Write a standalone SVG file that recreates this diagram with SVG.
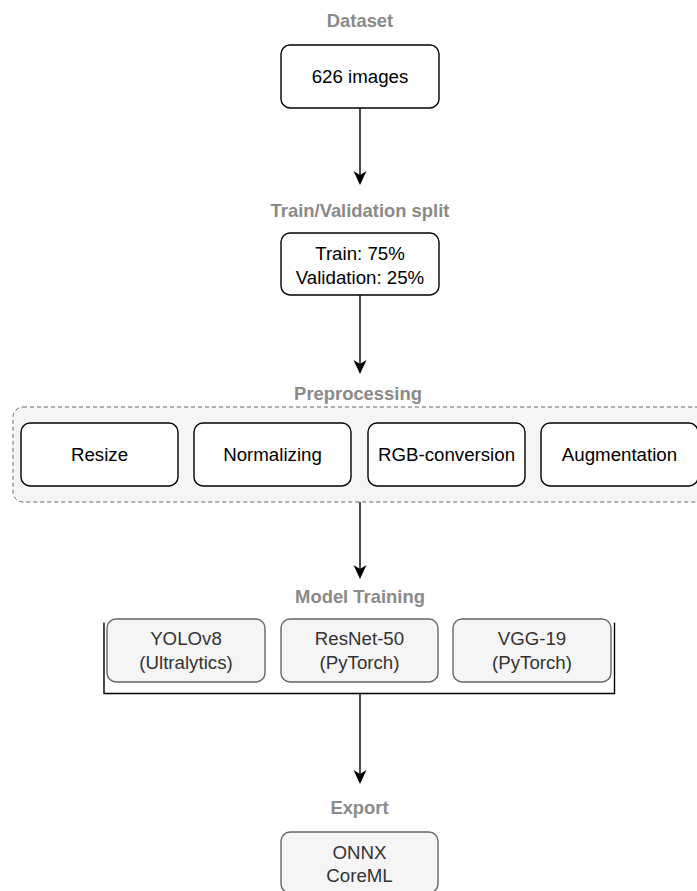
<svg xmlns="http://www.w3.org/2000/svg" width="697" height="891" viewBox="0 0 697 891">
  <style>
    .stage { font-family: "Liberation Sans", Arial, sans-serif; font-size: 18.4px; font-weight: bold; fill: #8a8a8a; text-anchor: middle; }
    .txt { font-family: "Liberation Sans", Arial, sans-serif; font-size: 18.7px; fill: #000000; text-anchor: middle; }
    .txt.soft { fill: #333333; }
    .box { fill: #ffffff; stroke: #000000; stroke-width: 1.4; }
    .box.soft { fill: #f5f5f5; stroke: #666666; }
    .group { fill: #f5f5f5; stroke: #666666; stroke-width: 1; stroke-dasharray: 4 3; }
    .edge { fill: none; stroke: #000000; stroke-width: 1.4; }
  </style>
  <defs>
    <!-- classic arrowhead; the line stops 5px short of the tip -->
    <marker id="arrow" markerUnits="userSpaceOnUse" markerWidth="16" markerHeight="16" viewBox="-15 -8 16 16" refX="-5" refY="0" orient="auto">
      <path d="M 0 0 L -14 -6.5 L -10 0 L -14 6.5 Z" fill="#000000"/>
    </marker>
  </defs>

  <rect width="697" height="891" fill="#ffffff"/>

  <!-- Dataset -->
  <g id="dataset">
    <text class="stage" x="360" y="27">Dataset</text>
    <rect class="box" x="281" y="45" width="158" height="63" rx="9"/>
    <text class="txt" x="360" y="83">626 images</text>
  </g>

  <!-- Train/Validation split -->
  <g id="split">
    <text class="stage" x="360" y="216.5">Train/Validation split</text>
    <rect class="box" x="281" y="233" width="158" height="62" rx="9"/>
    <text class="txt" x="360" y="260">Train: 75%</text>
    <text class="txt" x="360" y="284">Validation: 25%</text>
  </g>

  <!-- Preprocessing -->
  <g id="preprocessing">
    <text class="stage" x="358" y="400">Preprocessing</text>
    <rect class="group" x="13" y="407" width="702" height="95" rx="10"/>
    <g id="resize">
      <rect class="box" x="21" y="423" width="157" height="63" rx="9"/>
      <text class="txt" x="99.5" y="461">Resize</text>
    </g>
    <g id="normalizing">
      <rect class="box" x="194" y="423" width="157" height="63" rx="9"/>
      <text class="txt" x="272.5" y="461">Normalizing</text>
    </g>
    <g id="rgb-conversion">
      <rect class="box" x="368" y="423" width="157" height="63" rx="9"/>
      <text class="txt" x="446.5" y="461">RGB-conversion</text>
    </g>
    <g id="augmentation">
      <rect class="box" x="541" y="423" width="157" height="63" rx="9"/>
      <text class="txt" x="619.5" y="461">Augmentation</text>
    </g>
  </g>

  <!-- Model Training -->
  <g id="model-training">
    <text class="stage" x="360" y="603">Model Training</text>
    <path class="edge" d="M 104 622.5 V 693.5 H 614.5 V 622.5"/>
    <g id="yolov8">
      <rect class="box soft" x="107" y="619" width="158" height="63" rx="9"/>
      <text class="txt soft" x="186" y="645">YOLOv8</text>
      <text class="txt soft" x="186" y="669">(Ultralytics)</text>
    </g>
    <g id="resnet50">
      <rect class="box soft" x="281" y="619" width="157" height="63" rx="9"/>
      <text class="txt soft" x="359.5" y="645">ResNet-50</text>
      <text class="txt soft" x="359.5" y="669">(PyTorch)</text>
    </g>
    <g id="vgg19">
      <rect class="box soft" x="453" y="619" width="158" height="63" rx="9"/>
      <text class="txt soft" x="532" y="645">VGG-19</text>
      <text class="txt soft" x="532" y="669">(PyTorch)</text>
    </g>
  </g>

  <!-- Export -->
  <g id="export">
    <text class="stage" x="359.5" y="814">Export</text>
    <rect class="box soft" x="281" y="832" width="157" height="61" rx="9"/>
    <text class="txt soft" x="359.5" y="858.5">ONNX</text>
    <text class="txt soft" x="359.5" y="882">CoreML</text>
  </g>

  <!-- Connectors -->
  <g id="connectors">
    <line class="edge" x1="360" y1="108" x2="360" y2="180" marker-end="url(#arrow)"/>
    <line class="edge" x1="360" y1="295" x2="360" y2="369" marker-end="url(#arrow)"/>
    <line class="edge" x1="360" y1="502" x2="360" y2="574" marker-end="url(#arrow)"/>
    <line class="edge" x1="360" y1="693.5" x2="360" y2="779" marker-end="url(#arrow)"/>
  </g>
</svg>
